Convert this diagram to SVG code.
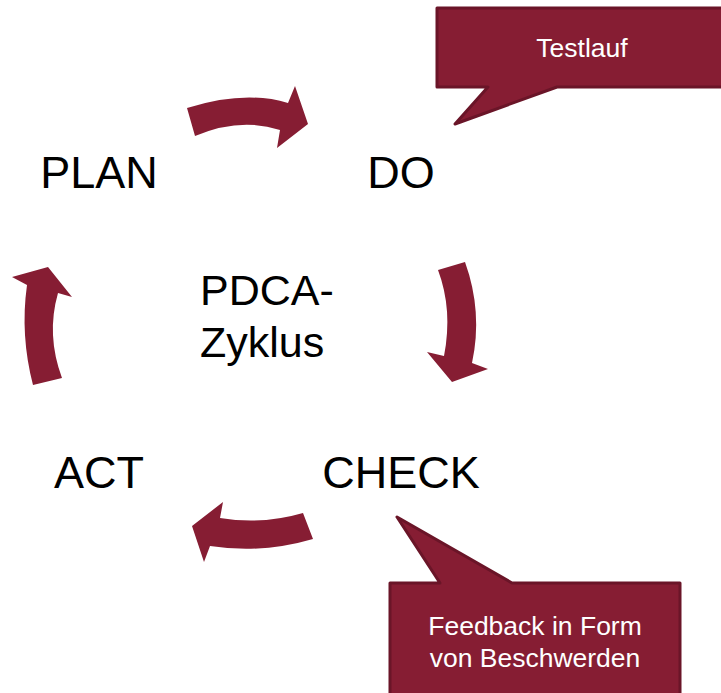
<svg xmlns="http://www.w3.org/2000/svg" width="721" height="693" viewBox="0 0 721 693">
<style>
.lbl{font-family:"Liberation Sans",Arial,sans-serif;font-size:45px;fill:#000}
.mid{font-size:43px}
.call{fill:#861D33;stroke:#6A1528;stroke-width:3;stroke-linejoin:round}
.ct{font-family:"Liberation Sans",Arial,sans-serif;font-size:26.5px;fill:#fff;text-anchor:middle}
.arr{fill:#861D33}
</style>
<rect width="721" height="693" fill="#fff"/>
<g id="connectors">
<path class="arr" d="M187,108 Q245,90 288,103 L295,86 L308,124 L277,148 L280,130 Q240,117 195,136 Z"/>
<path class="arr" d="M438,270 L465,262 Q483,312 472,363 L488,369 L452,382 L427,352 L444,356 Q453,310 438,270 Z"/>
<path class="arr" d="M303,513 Q262,525 220,518 L223,502 L192,526 L204,562 L210,546 Q262,554 313,539 Z"/>
<path class="arr" d="M33,385 L62,378 Q46,335 58,293 L72,297 L48,267 L12,277 L27,285 Q20,335 33,385 Z"/>
</g>
<g id="plan"><text class="lbl" x="99" y="188" text-anchor="middle">PLAN</text></g>
<g id="do"><text class="lbl" x="401" y="188" text-anchor="middle">DO</text></g>
<g id="check"><text class="lbl" x="401" y="488" text-anchor="middle">CHECK</text></g>
<g id="act"><text class="lbl" x="99" y="488" text-anchor="middle">ACT</text></g>
<g id="center"><text class="lbl mid" x="200" y="305">PDCA-</text><text class="lbl mid" x="200" y="357">Zyklus</text></g>
<g id="testlauf">
<path class="call" d="M437,8 H729 V87 H557 L455,124 L488,87 H437 Z"/>
<text class="ct" x="582" y="57">Testlauf</text>
</g>
<g id="feedback">
<path class="call" d="M390,583 H440 L397,517 L512,583 H680 V700 H390 Z"/>
<text class="ct" x="535" y="635">Feedback in Form</text>
<text class="ct" x="535" y="667">von Beschwerden</text>
</g>
</svg>
